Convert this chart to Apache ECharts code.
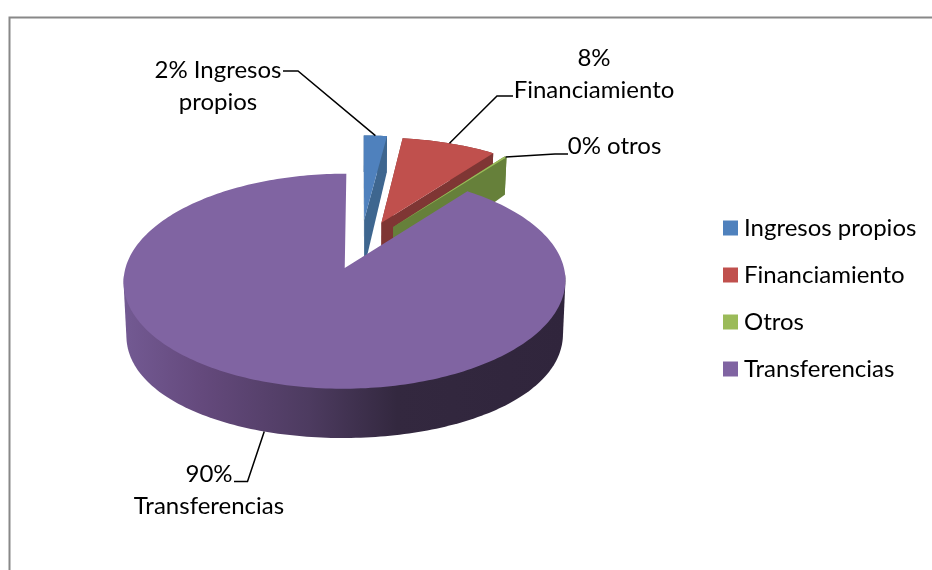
<!DOCTYPE html>
<html><head><meta charset="utf-8">
<style>html,body{margin:0;padding:0;background:#fff}#c{width:932px;height:570px}</style>
<script src="https://cdn.jsdelivr.net/npm/echarts@6/dist/echarts.min.js"></script>
</head><body><div id="c"></div>
<script>
// ---- data ----
const categories = ['Ingresos propios', 'Financiamiento', 'Otros', 'Transferencias'];
const values = [2.0, 8.2, 0.2, 89.6];
const dataLabels = ['2% Ingresos\npropios', '8%\nFinanciamiento', '0% otros', '90%\nTransferencias'];

// ---- style and layout ----
const FONT = 'Lato, Carlito, "Open Sans", sans-serif';
const topColors = ['#4f81bd', '#c0504d', '#9bbb59', '#8064a2'];
const wallColors = ['#3e668f', '#7f3634', '#66803a', '#5d4470'];
const labelPos = [[218, 86], [594, 74], [614.5, 146], [209, 490]];
const leaders = [
  [[283, 71], [298, 71]],
  [[513, 96], [497, 96]],
  [[568, 154], [555, 154]],
  [[234, 481.5], [247.5, 481.5]]
];
const explode = [0.28, 0.27, 0.26, 0.21];
const nudgeX = [0, 0, 0, -1];
const P = { ox: 360.5, horizon: -590, C: 6950, K: 1776, d0: 8.3, wall: 350, lowScale: 0.988, bulge: 10 };
const purpleRim = { type: 'linear', x: 123, y: 0, x2: 565, y2: 0, global: true, colorStops: [
  { offset: 0, color: '#735a93' }, { offset: 0.18, color: '#64497c' },
  { offset: 0.42, color: '#4d3b60' }, { offset: 0.62, color: '#33283f' },
  { offset: 1, color: '#30253c' }] };

// ---- perspective projection of the pie plane ----
function project(u, v, low) {
  const d = P.d0 - v;
  const sag = low ? P.bulge * Math.max(0, 1 - (d - 8.1) * (d - 8.1)) : 0;
  return [P.ox + P.K * u / d * (low ? P.lowScale : 1), P.horizon + (P.C + (low ? P.wall : 0)) / d + sag];
}
function hull(points) {
  const pts = points.slice().sort((a, b) => a[0] - b[0] || a[1] - b[1]);
  const cross = (o, a, b) => (a[0] - o[0]) * (b[1] - o[1]) - (a[1] - o[1]) * (b[0] - o[0]);
  const half = list => {
    const h = [];
    for (const p of list) {
      while (h.length > 1 && cross(h[h.length - 2], h[h.length - 1], p) <= 0) h.pop();
      h.push(p);
    }
    h.pop();
    return h;
  };
  return half(pts).concat(half(pts.slice().reverse()));
}
const total = values.reduce((a, b) => a + b, 0);
const angles = [];
values.reduce((s, v) => { const e = s + v / total * 2 * Math.PI; angles.push([s, e]); return e; }, 0);

function sliceGeom(i) {
  const [a0, a1] = angles[i];
  const mid = (a0 + a1) / 2;
  const ou = Math.sin(mid) * explode[i], ov = -Math.cos(mid) * explode[i];
  const pt = (a, r, low) => {
    const p = project(ou + r * Math.sin(a), ov - r * Math.cos(a), low);
    return [p[0] + nudgeX[i], p[1]];
  };
  const arcAngles = () => {
    const out = [];
    const n = Math.max(2, Math.ceil((a1 - a0) / 0.02));
    for (let k = 0; k <= n; k++) out.push(a0 + (a1 - a0) * k / n);
    return out;
  };
  return { a0, a1, mid, pt, arcAngles };
}

function renderSlice(i) {
  return function () {
    const g = sliceGeom(i);
    const kids = [];
    const poly = (points, fill) => kids.push({ type: 'polygon', shape: { points }, style: { fill } });
    const as = g.arcAngles();
    const rimTop = as.map(a => g.pt(a, 1));
    if (i === 3) {
      // the big slice: only its front outline shows, so no facet seams or notch walls
      const front = as.filter(a => Math.cos(a) <= -0.05);
      poly(hull(front.map(a => g.pt(a, 1)).concat(front.map(a => g.pt(a, 1, true)))), purpleRim);
    } else {
      poly([g.pt(g.a0, 0), g.pt(g.a0, 1), g.pt(g.a0, 1, true), g.pt(g.a0, 0, true)], wallColors[i]);
      poly([g.pt(g.a1, 0), g.pt(g.a1, 1), g.pt(g.a1, 1, true), g.pt(g.a1, 0, true)], wallColors[i]);
      poly(rimTop.concat(as.slice().reverse().map(a => g.pt(a, 1, true))), wallColors[i]);
    }
    // top face
    poly([g.pt(g.a0, 0)].concat(rimTop), topColors[i]);
    // leader line from the rim to the label
    const hit = i === 3 ? g.pt(g.mid, 1, true) : g.pt(g.mid, 1, false);
    const lead = leaders[i];
    kids.push({ type: 'polyline', shape: { points: [lead[0], lead[1], hit] }, style: { stroke: '#000', lineWidth: 1.5, fill: null }, z2: 5 });
    kids.push({ type: 'text', x: labelPos[i][0], y: labelPos[i][1], z2: 6,
      style: { text: dataLabels[i], fill: '#000', font: '24px ' + FONT, align: 'center', verticalAlign: 'middle', lineHeight: 32 } });
    return { type: 'group', children: kids };
  };
}

const series = categories.map((name, i) => ({
  type: 'custom', name, coordinateSystem: 'none', silent: true, animation: false,
  data: [values[i]], itemStyle: { color: topColors[i] }, z: 2 + i,
  renderItem: renderSlice(i), clip: false
}));

const chart = echarts.init(document.getElementById('c'), null, { renderer: 'canvas' });
chart.setOption({
  animation: false,
  backgroundColor: '#fff',
  graphic: [{ type: 'rect', shape: { x: 9.5, y: 17.5, width: 1000, height: 1000 }, style: { fill: null, stroke: '#888888', lineWidth: 2 }, silent: true, z: 0 }],
  legend: {
    orient: 'vertical', left: 723, top: 216, padding: 0, icon: 'rect', itemWidth: 15, itemHeight: 15, itemGap: 23,
    data: categories, selectedMode: false,
    textStyle: { fontFamily: FONT, fontSize: 24, color: '#000', padding: [0, 0, 0, 1] }
  },
  series
});
</script></body></html>
